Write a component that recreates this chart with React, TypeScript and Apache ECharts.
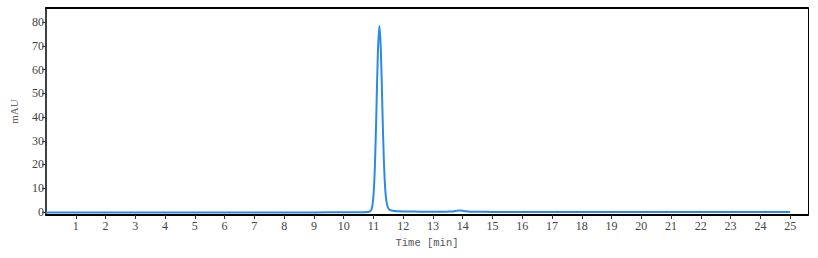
import React, { useEffect, useRef } from "react";
import * as echarts from "echarts";

const times: number[] = [
  0, 1, 2, 3, 4, 5, 6, 7, 8, 9, 10, 10.5, 10.8, 10.85, 10.9, 10.95, 11.0, 11.05, 11.1, 11.15, 11.2,
  11.25, 11.3, 11.35, 11.4, 11.45, 11.5, 11.55, 11.65, 11.8, 12.1,
  12.6, 13.2, 13.6, 13.75, 13.85, 13.92, 14.0, 14.1, 14.25, 14.5, 15, 16, 17, 18, 19, 20, 21, 22, 23, 24, 25,
];
const absorbance: number[] = [
  -0.2, -0.2, -0.2, -0.2, -0.2, -0.2, -0.2, -0.2, -0.2, -0.2, -0.15, -0.1, 0.0, 0.1, 0.3, 1.6, 6.6, 19.5, 42.3, 67.3, 78.5,
  68, 44, 22, 9, 3.5, 1.6, 0.9, 0.5, 0.3, 0.2,
  0.1, 0.05, 0.15, 0.35, 0.55, 0.6, 0.5, 0.3, 0.12, 0.05, 0.0, -0.05, -0.05, -0.05, -0.05, -0.05, -0.05, -0.05, -0.05, -0.05, -0.05,
];
const xTicks: number[] = [1, 2, 3, 4, 5, 6, 7, 8, 9, 10, 11, 12, 13, 14, 15, 16, 17, 18, 19, 20, 21, 22, 23, 24, 25];
const yTicks: number[] = [0, 10, 20, 30, 40, 50, 60, 70, 80];

const FONT = "Liberation Serif";

export default function App() {
  const ref = useRef<HTMLDivElement>(null);
  useEffect(() => {
    if (!ref.current) return;
    const chart = echarts.init(ref.current, null, { renderer: "svg" });
    const data = times.map((t, i) => [t, absorbance[i]]);
    const labelStyle = { fontFamily: FONT, fontSize: 12, color: "#444" };
    chart.setOption({
      animation: false,
      backgroundColor: "#fff",
      grid: { left: 43, right: 10, top: 8, bottom: 43 },
      xAxis: [
        {
          type: "value",
          min: 0,
          max: 25.6,
          name: "Time [min]",
          nameLocation: "middle",
          nameGap: 22,
          nameTextStyle: { fontFamily: "Liberation Mono", fontSize: 10.5, color: "#555" },
          axisLine: { show: true, onZero: false, lineStyle: { color: "#000", width: 2 } },
          axisTick: { show: true, length: 4, lineStyle: { color: "#333" }, customValues: xTicks },
          axisLabel: { ...labelStyle, margin: 5, customValues: xTicks },
          splitLine: { show: false },
        },
        {
          type: "value",
          position: "top",
          min: 0,
          max: 25.6,
          axisLine: { show: true, onZero: false, lineStyle: { color: "#000", width: 2 } },
          axisTick: { show: false },
          axisLabel: { show: false },
          splitLine: { show: false },
        },
      ],
      yAxis: [
        {
          type: "value",
          min: -1.3,
          max: 86,
          name: "mAU",
          nameLocation: "middle",
          nameGap: 27,
          nameRotate: 90,
          nameTextStyle: { fontFamily: FONT, fontSize: 11, color: "#666" },
          axisLine: { show: true, onZero: false, lineStyle: { color: "#000", width: 1.5 } },
          axisTick: { show: true, length: 4, lineStyle: { color: "#333" }, customValues: yTicks },
          axisLabel: { ...labelStyle, margin: 2, customValues: yTicks },
          splitLine: { show: false },
        },
        {
          type: "value",
          position: "right",
          min: -1.3,
          max: 86,
          axisLine: { show: true, onZero: false, lineStyle: { color: "#000", width: 1 } },
          axisTick: { show: false },
          axisLabel: { show: false },
          splitLine: { show: false },
        },
      ],
      series: [
        {
          type: "line",
          data,
          showSymbol: false,
          smooth: 0.3,
          lineStyle: { color: "#2b8ae8", width: 2 },
          itemStyle: { color: "#2b8ae8" },
        },
      ],
    });
    return () => chart.dispose();
  }, []);
  return <div ref={ref} style={{ position: "fixed", left: 0, top: 0, width: 818, height: 258 }} />;
}
